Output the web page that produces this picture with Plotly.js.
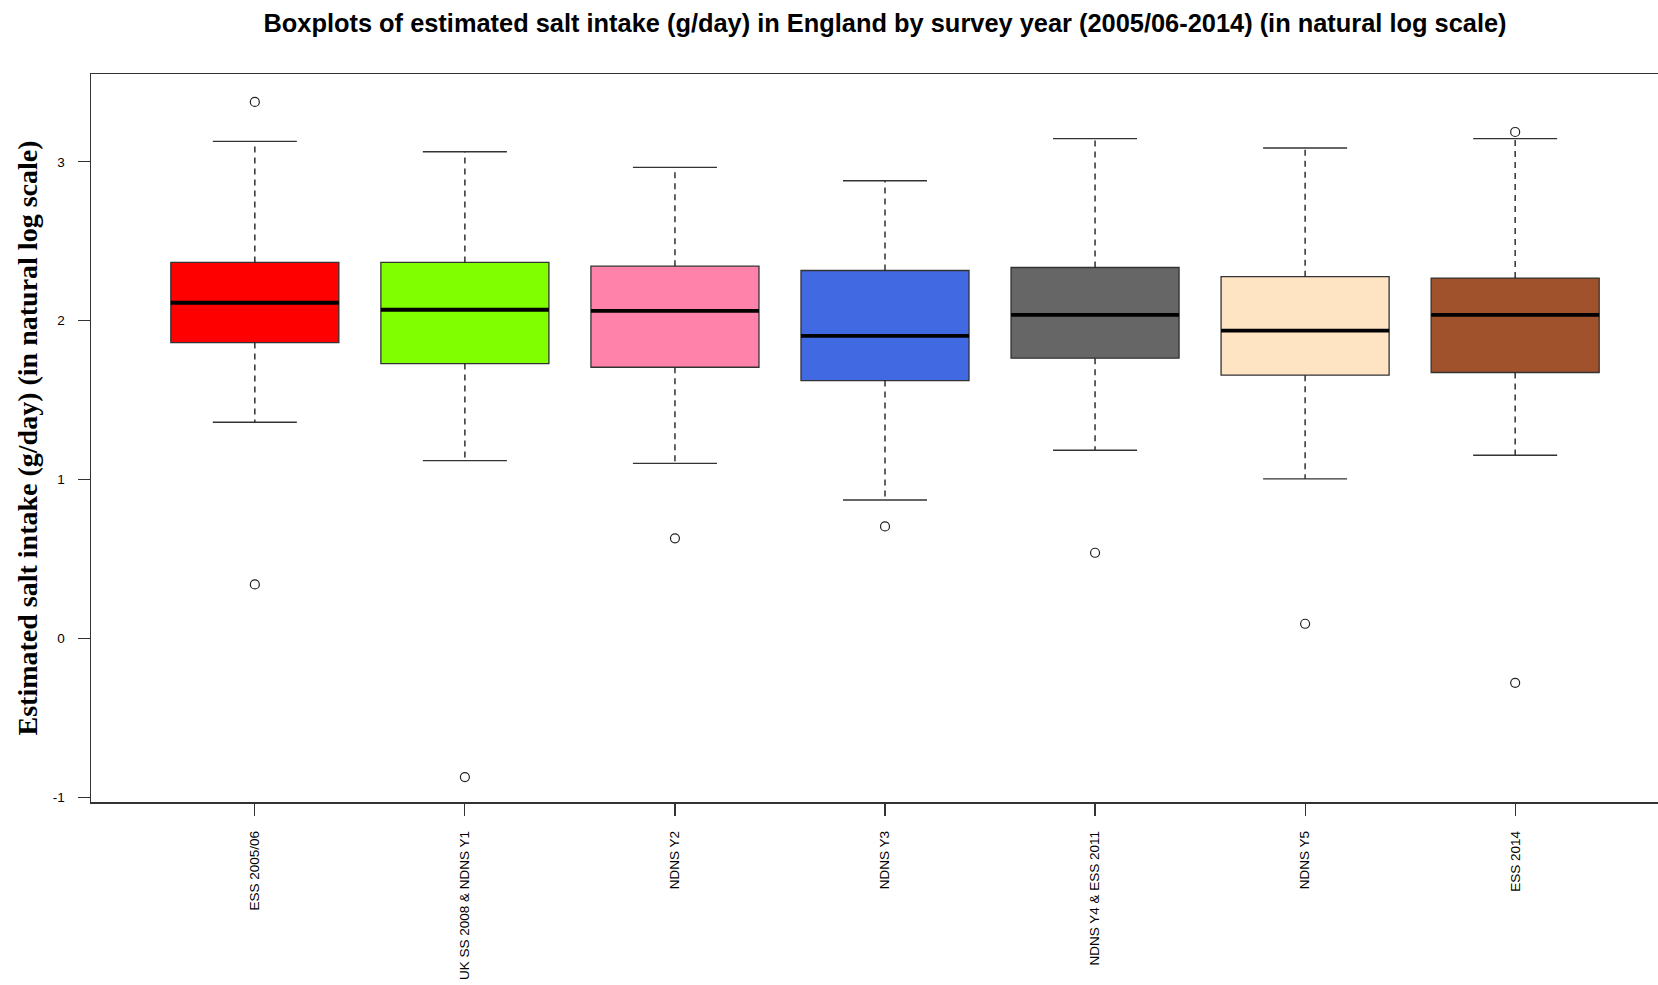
<!DOCTYPE html>
<html>
<head>
<meta charset="utf-8">
<script src="https://cdn.plot.ly/plotly-3.0.1.min.js"></script>
<style>
  html, body { margin: 0; padding: 0; overflow: hidden; background: #fff; }
  #chart { width: 1700px; height: 985px; }
</style>
</head>
<body>
<div id="chart"></div>
<script>
// ---- Data (natural log of estimated salt intake, g/day) ----
const categories = ["ESS 2005/06", "UK SS 2008 & NDNS Y1", "NDNS Y2", "NDNS Y3", "NDNS Y4 & ESS 2011", "NDNS Y5", "ESS 2014"];
const lowerWhisker = [1.361, 1.119, 1.102, 0.871, 1.184, 1.004, 1.153];
const q1Values     = [1.862, 1.730, 1.707, 1.623, 1.764, 1.657, 1.674];
const medianValues = [2.113, 2.069, 2.062, 1.905, 2.037, 1.938, 2.037];
const q3Values     = [2.367, 2.367, 2.343, 2.316, 2.335, 2.277, 2.268];
const upperWhisker = [3.129, 3.064, 2.965, 2.881, 3.146, 3.087, 3.146];
const outlierValues = [[3.377, 0.340], [-0.873], [0.630], [0.705], [0.539], [0.092], [3.188, -0.280]];
const boxColors = ["#FF0000", "#7FFF00", "#FF82AB", "#4169E1", "#666666", "#FFE4C4", "#A0522D"];
const yTickVals = [-1, 0, 1, 2, 3];

const positions = categories.map((c, i) => i + 1);
const boxWidth = 0.8;
const capHalf = boxWidth / 4;
const edgeColor = "#333333";

const traces = [];

// dashed whiskers
const wx = [], wy = [];
positions.forEach((p, i) => {
  wx.push(p, p, null, p, p, null);
  wy.push(q3Values[i], upperWhisker[i], null, q1Values[i], lowerWhisker[i], null);
});
traces.push({type: "scatter", mode: "lines", x: wx, y: wy,
  line: {color: "#222222", width: 1.4, dash: "6px,5px"}, hoverinfo: "skip", showlegend: false});

// boxes
positions.forEach((p, i) => {
  traces.push({
    type: "box", x: [p],
    q1: [q1Values[i]], median: [medianValues[i]], q3: [q3Values[i]],
    lowerfence: [q1Values[i]], upperfence: [q3Values[i]],
    width: boxWidth, whiskerwidth: 0, boxpoints: false,
    fillcolor: boxColors[i], line: {color: edgeColor, width: 1.3},
    hoverinfo: "skip", showlegend: false, name: categories[i]
  });
});

// thick medians
const mx = [], my = [];
positions.forEach((p, i) => {
  mx.push(p - boxWidth / 2, p + boxWidth / 2, null);
  my.push(medianValues[i], medianValues[i], null);
});
traces.push({type: "scatter", mode: "lines", x: mx, y: my,
  line: {color: "#000000", width: 3.8}, hoverinfo: "skip", showlegend: false});

// whisker caps
const cx = [], cy = [];
positions.forEach((p, i) => {
  cx.push(p - capHalf, p + capHalf, null, p - capHalf, p + capHalf, null);
  cy.push(upperWhisker[i], upperWhisker[i], null, lowerWhisker[i], lowerWhisker[i], null);
});
traces.push({type: "scatter", mode: "lines", x: cx, y: cy,
  line: {color: edgeColor, width: 1.4}, hoverinfo: "skip", showlegend: false});

// outliers
const ox = [], oy = [];
positions.forEach((p, i) => {
  outlierValues[i].forEach(v => { ox.push(p); oy.push(v); });
});
traces.push({type: "scatter", mode: "markers", x: ox, y: oy,
  marker: {symbol: "circle-open", size: 9, color: "#222222", line: {width: 1.2, color: "#222222"}},
  hoverinfo: "skip", showlegend: false});

const layout = {
  width: 1700, height: 985,
  margin: {l: 91, r: 21, t: 74, b: 183, pad: 0},
  paper_bgcolor: "#ffffff", plot_bgcolor: "#ffffff",
  showlegend: false,
  title: {
    text: "Boxplots of estimated salt intake (g/day) in England by survey year (2005/06-2014) (in natural log scale)",
    font: {family: "Liberation Sans, Arial, sans-serif", size: 25.4, color: "#000000", weight: "bold"},
    x: 0.5, xref: "paper", xanchor: "center",
    y: 1 - 23 / 985, yref: "container", yanchor: "middle"
  },
  xaxis: {
    range: [0.22, 7.78],
    tickmode: "array", tickvals: positions, ticktext: categories,
    tickangle: -90,
    ticks: "outside", ticklen: 12, tickwidth: 1.2, tickcolor: edgeColor,
    tickfont: {family: "Liberation Sans, Arial, sans-serif", size: 13.5, color: "#000000"},
    ticklabelstandoff: 10,
    showline: true, mirror: true, linecolor: edgeColor, linewidth: 1.5,
    showgrid: false, zeroline: false, fixedrange: true
  },
  yaxis: {
    range: [-1.030, 3.553],
    tickmode: "array", tickvals: yTickVals, ticktext: yTickVals.map(String),
    ticks: "outside", ticklen: 12, tickwidth: 1.2, tickcolor: edgeColor,
    tickfont: {family: "Liberation Sans, Arial, sans-serif", size: 13.5, color: "#000000"},
    ticklabelstandoff: 10,
    showline: true, mirror: true, linecolor: edgeColor, linewidth: 1.5,
    showgrid: false, zeroline: false, fixedrange: true,
    title: {
      text: "Estimated salt intake (g/day) (in natural log scale)",
      font: {family: "Liberation Serif, Times New Roman, serif", size: 28, color: "#000000", weight: "bold"},
      standoff: 7
    }
  }
};

Plotly.newPlot("chart", traces, layout, {displayModeBar: false, staticPlot: true});
</script>
</body>
</html>
